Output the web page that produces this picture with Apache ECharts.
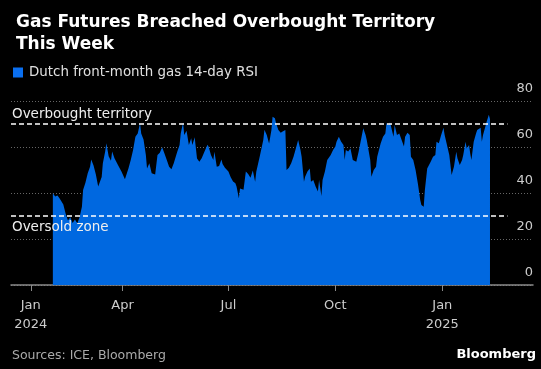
<!DOCTYPE html>
<html><head><meta charset="utf-8">
<script src="https://cdn.jsdelivr.net/npm/echarts@6/dist/echarts.min.js"></script>
<style>html,body{margin:0;padding:0;background:#000;}#c{width:541px;height:369px;}</style>
</head><body><div id="c"></div>
<script>
const seriesName = 'Dutch front-month gas 14-day RSI';
const dates = ['2024-02-01','2024-02-03','2024-02-05','2024-02-07','2024-02-10','2024-02-12','2024-02-14','2024-02-16','2024-02-18','2024-02-20','2024-02-22','2024-02-24','2024-02-26','2024-02-27','2024-02-29','2024-03-02','2024-03-04','2024-03-05','2024-03-07','2024-03-08','2024-03-09','2024-03-11','2024-03-12','2024-03-14','2024-03-15','2024-03-17','2024-03-18','2024-03-19','2024-03-20','2024-03-22','2024-03-23','2024-03-25','2024-03-28','2024-03-31','2024-04-03','2024-04-06','2024-04-08','2024-04-10','2024-04-12','2024-04-14','2024-04-16','2024-04-17','2024-04-19','2024-04-21','2024-04-22','2024-04-24','2024-04-26','2024-04-29','2024-05-01','2024-05-03','2024-05-05','2024-05-07','2024-05-09','2024-05-11','2024-05-13','2024-05-15','2024-05-18','2024-05-20','2024-05-21','2024-05-23','2024-05-24','2024-05-26','2024-05-27','2024-05-28','2024-05-30','2024-05-31','2024-06-02','2024-06-04','2024-06-06','2024-06-08','2024-06-10','2024-06-13','2024-06-14','2024-06-16','2024-06-18','2024-06-19','2024-06-21','2024-06-23','2024-06-25','2024-06-26','2024-06-28','2024-07-01','2024-07-03','2024-07-05','2024-07-07','2024-07-08','2024-07-10','2024-07-11','2024-07-14','2024-07-16','2024-07-18','2024-07-20','2024-07-22','2024-07-24','2024-07-25','2024-07-28','2024-07-31','2024-08-01','2024-08-03','2024-08-05','2024-08-07','2024-08-08','2024-08-10','2024-08-11','2024-08-13','2024-08-15','2024-08-17','2024-08-19','2024-08-20','2024-08-22','2024-08-24','2024-08-26','2024-08-28','2024-08-30','2024-09-01','2024-09-02','2024-09-04','2024-09-05','2024-09-07','2024-09-09','2024-09-10','2024-09-12','2024-09-13','2024-09-14','2024-09-16','2024-09-17','2024-09-18','2024-09-19','2024-09-20','2024-09-22','2024-09-24','2024-09-27','2024-09-29','2024-10-01','2024-10-02','2024-10-04','2024-10-06','2024-10-08','2024-10-09','2024-10-10','2024-10-12','2024-10-14','2024-10-16','2024-10-17','2024-10-19','2024-10-21','2024-10-23','2024-10-25','2024-10-27','2024-10-28','2024-10-29','2024-10-31','2024-11-01','2024-11-03','2024-11-05','2024-11-06','2024-11-09','2024-11-11','2024-11-13','2024-11-14','2024-11-16','2024-11-17','2024-11-18','2024-11-20','2024-11-21','2024-11-23','2024-11-25','2024-11-27','2024-11-29','2024-11-30','2024-12-02','2024-12-04','2024-12-05','2024-12-07','2024-12-09','2024-12-10','2024-12-11','2024-12-13','2024-12-14','2024-12-16','2024-12-17','2024-12-18','2024-12-19','2024-12-22','2024-12-24','2024-12-26','2024-12-27','2024-12-29','2024-12-31','2025-01-02','2025-01-03','2025-01-05','2025-01-07','2025-01-08','2025-01-09','2025-01-11','2025-01-13','2025-01-14','2025-01-16','2025-01-18','2025-01-19','2025-01-21','2025-01-22','2025-01-24','2025-01-25','2025-01-26','2025-01-28','2025-01-30','2025-01-31','2025-02-03','2025-02-04','2025-02-05','2025-02-07','2025-02-08','2025-02-10','2025-02-11'];
const rsi = [39.9,38.5,38.9,37.5,35,31,28,29.5,27,28.5,26.8,29.5,34,41.3,44.5,48.6,51.4,54.6,52,50,48,42.8,42,47,52.9,58,61.6,62,56,54,58,55.1,52.2,49.3,46,50.7,54.3,58.7,64.5,65.9,70.3,65.9,63.3,56.5,50.7,52.9,48.6,48,56.5,57.5,59.9,57.2,54.3,51.4,50.3,52.9,57.9,60.9,65.9,70.6,65.2,67.1,67.4,60.9,63.8,60.9,64.2,55,53.6,55.1,57.5,61,60.1,56.5,54.3,57.9,51.4,51.7,54.6,52.6,51,49.3,46.8,45,44.2,42.8,37.7,42,41.4,49.3,48.3,46.6,49.8,44.9,49.3,56,63,67.5,65.2,61.5,67.4,73.2,72.5,70.3,67.4,66.2,66.8,67.4,50,51,52.9,55.8,59.4,63,58.7,55.8,44.9,47.1,49.3,50.7,44.9,45.6,44.2,42.8,40.6,45.6,45,38.7,45.6,49.3,54.3,56.5,58.7,60.2,62.3,64.5,62.3,60.9,54.3,58.7,58,59.4,54.3,55,53.6,57.9,63,68.1,65.2,63,63.5,54.3,47.1,50,51.4,55.8,61.6,64.5,65.9,70.3,69.6,70.8,70,64.5,69.6,65.2,65.9,63,60.2,64.5,66.2,65.2,55.8,54.3,50,50.5,44,37,34.8,34,41.3,41,50.7,53.6,55.8,56.5,62.3,61.6,65.2,68.4,65.2,60.9,56.5,55.8,47.8,51.4,57.9,55.1,52.2,54.3,56.5,62.3,59.4,60.9,57.2,54.3,62.3,65.9,67.4,68.4,62.3,65.2,68.8,70.8,74,72.2];
const xTickDates = ['2024-01-13','2024-04-01','2024-07-01','2024-10-01','2025-01-01'];
const yTicks = [0, 20, 40, 60, 80];
const overbought = 70, oversold = 30;
const xMin = '2023-12-27', xMax = '2025-03-20', refEnd = '2025-02-26';

function ts(s){const p=s.split('-').map(Number);return new Date(p[0],p[1]-1,p[2]).getTime();}
const months=['Jan','Feb','Mar','Apr','May','Jun','Jul','Aug','Sep','Oct','Nov','Dec'];
const chart = echarts.init(document.getElementById('c'), null, {renderer:'canvas'});
const font = 'DejaVu Sans';
chart.setOption({
  backgroundColor:'#000',
  animation:false,
  title:{text:'Gas Futures Breached Overbought Territory\nThis Week',left:11,top:7,
    textStyle:{color:'#fff',fontSize:17,fontWeight:'bold',fontFamily:font,lineHeight:22}},
  legend:{left:13,top:66,padding:0,itemWidth:10,itemHeight:10,icon:'rect',itemGap:6,
    textStyle:{color:'#e0e0e0',fontSize:13.4,fontFamily:font,padding:[0,0,0,1]},data:[seriesName]},
  grid:{left:11,right:8,top:101,bottom:84},
  xAxis:{type:'value',min:ts(xMin),max:ts(xMax),
    axisLine:{lineStyle:{color:'#8a8a8a',width:1.5}},
    axisTick:{show:true,customValues:xTickDates.map(ts),length:6,lineStyle:{color:'#8a8a8a',width:1}},
    axisLabel:{customValues:xTickDates.map(ts),color:'#ccc',fontSize:13,fontFamily:font,lineHeight:19,margin:11,
      formatter:function(v){const d=new Date(v);const m=months[d.getMonth()];return d.getMonth()===0? m+'\n'+d.getFullYear():m;}},
    splitLine:{show:false}},
  yAxis:{type:'value',position:'right',min:yTicks[0],max:yTicks[yTicks.length-1],interval:20,
    axisLine:{show:false},axisTick:{show:false},
    axisLabel:{inside:true,margin:0,verticalAlign:'bottom',padding:[0,0,6,0],color:'#ccc',fontSize:13,fontFamily:font},
    splitLine:{lineStyle:{color:'#666',type:[1,2],width:1}}},
  series:[{name:seriesName,type:'line',symbol:'none',
    data:dates.map((d,i)=>[ts(d),rsi[i]]),
    lineStyle:{width:0,color:'#0068e0'},itemStyle:{color:'#0a6ff0'},
    areaStyle:{color:'#0068e0',opacity:1},
    markLine:{silent:true,symbol:'none',
      lineStyle:{color:'#fff',type:[5,3],width:1.5},
      data:[
        [{coord:[ts(xMin),overbought],label:{show:true,formatter:'Overbought territory',position:'insideStartTop',distance:[1,3],color:'#eee',fontSize:13.5,fontFamily:font}},{coord:[ts(refEnd),overbought]}],
        [{coord:[ts(xMin),oversold],label:{show:true,formatter:'Oversold zone',position:'insideStartBottom',distance:[1,4],color:'#eee',fontSize:13.5,fontFamily:font}},{coord:[ts(refEnd),oversold]}]
      ]}}],
  graphic:[
    {type:'text',left:12,top:349,style:{text:'Sources: ICE, Bloomberg',fill:'#aaa',font:'12.5px "DejaVu Sans"'}},
    {type:'text',right:5,top:348,style:{text:'Bloomberg',fill:'#fff',font:'bold 13px "DejaVu Sans"'}}
  ]
});
</script></body></html>
